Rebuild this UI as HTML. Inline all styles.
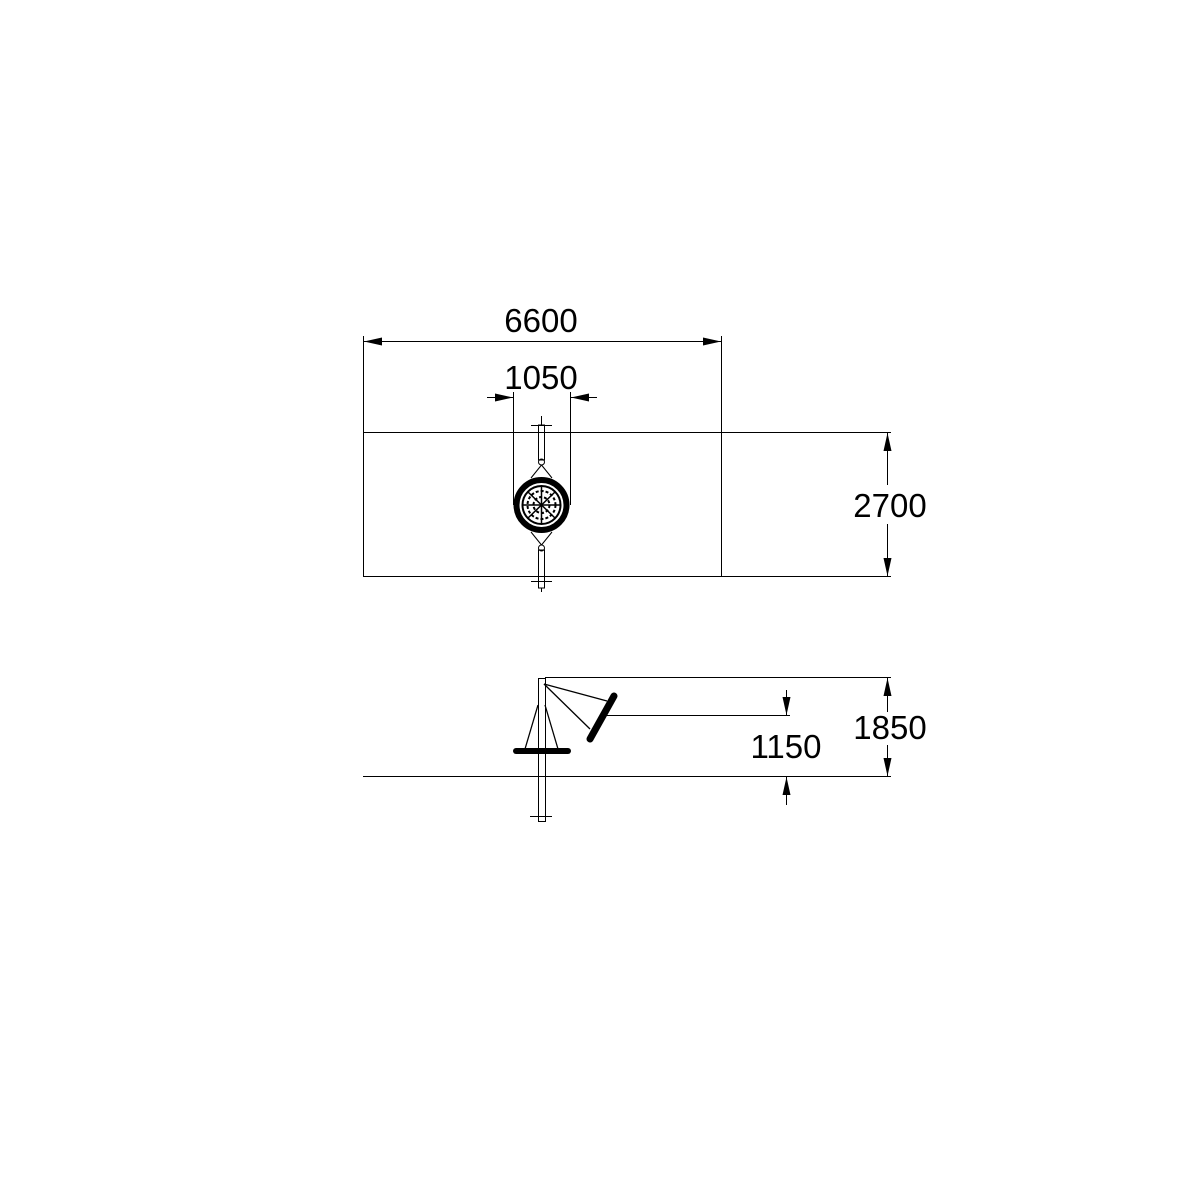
<!DOCTYPE html>
<html><head><meta charset="utf-8"><style>html,body{margin:0;padding:0;background:#fff}svg{display:block}</style></head>
<body>
<svg width="1201" height="1201" viewBox="0 0 1201 1201" xmlns="http://www.w3.org/2000/svg">
<defs>
<marker id="b" viewBox="0 0 18 8" refX="18" refY="4" markerWidth="18" markerHeight="8" orient="auto-start-reverse" markerUnits="userSpaceOnUse"><path d="M0,0 L18,4 L0,8 z" fill="#000"/></marker>
</defs>
<rect width="1201" height="1201" fill="#fff"/>
<g stroke="#000" stroke-width="1" fill="none">
<rect x="363.5" y="432.5" width="358" height="144"/>
<line x1="721" y1="432.5" x2="891" y2="432.5"/>
<line x1="721" y1="576.5" x2="891" y2="576.5"/>
<line x1="363.5" y1="336" x2="363.5" y2="432"/>
<line x1="721.5" y1="336" x2="721.5" y2="432"/>
<line x1="364" y1="341.5" x2="721" y2="341.5" marker-start="url(#b)" marker-end="url(#b)"/>
<line x1="513.5" y1="392" x2="513.5" y2="505"/>
<line x1="570.5" y1="392" x2="570.5" y2="505"/>
<line x1="487" y1="397.5" x2="513" y2="397.5" marker-end="url(#b)"/>
<line x1="597" y1="397.5" x2="571" y2="397.5" marker-end="url(#b)"/>
<line x1="887.5" y1="433" x2="887.5" y2="485" marker-start="url(#b)"/>
<line x1="887.5" y1="524" x2="887.5" y2="576" marker-end="url(#b)"/>
<rect x="538.5" y="425" width="6" height="35"/>
<rect x="538.5" y="550" width="6" height="38"/>
<line x1="531" y1="425.5" x2="552" y2="425.5"/>
<line x1="531" y1="581.5" x2="552" y2="581.5"/>
<line x1="541.5" y1="416" x2="541.5" y2="425"/>
<line x1="541.5" y1="588" x2="541.5" y2="592"/>
<path d="M541.5,465 L531,478 M541.5,465 L552,478 M541.5,545 L531,532 M541.5,545 L552,532"/>
<circle cx="541.5" cy="462" r="3"/>
<circle cx="541.5" cy="548" r="3"/>
<circle cx="541.5" cy="505" r="25" stroke-width="6"/>
<circle cx="541.5" cy="505" r="19" stroke-width="2"/>
<circle cx="541.5" cy="505" r="14" stroke-width="2" stroke-dasharray="3 2"/>
<circle cx="541.5" cy="505" r="8" stroke-width="2" stroke-dasharray="3 2"/>
<g stroke-width="1.5">
<line x1="523" y1="505" x2="560" y2="505"/><line x1="541.5" y1="486" x2="541.5" y2="524"/>
<line x1="528" y1="492" x2="555" y2="518"/><line x1="555" y1="492" x2="528" y2="518"/>
</g>
<line x1="545" y1="677.5" x2="891" y2="677.5"/>
<line x1="363" y1="776.5" x2="891" y2="776.5"/>
<line x1="887.5" y1="678" x2="887.5" y2="712" marker-start="url(#b)"/>
<line x1="887.5" y1="745" x2="887.5" y2="776" marker-end="url(#b)"/>
<line x1="603" y1="715.5" x2="790" y2="715.5"/>
<line x1="786.5" y1="690" x2="786.5" y2="715" marker-end="url(#b)"/>
<line x1="786.5" y1="805" x2="786.5" y2="777" marker-end="url(#b)"/>
<rect x="538.5" y="678.5" width="7" height="143"/>
<line x1="530" y1="816.5" x2="552" y2="816.5"/>
<line x1="538" y1="705" x2="525" y2="749" stroke-width="1.3"/>
<line x1="545" y1="705" x2="558" y2="749" stroke-width="1.3"/>
<line x1="544" y1="684" x2="607" y2="701" stroke-width="1.3"/>
<line x1="544" y1="684" x2="590" y2="729" stroke-width="1.3"/>
<line x1="516" y1="751" x2="568" y2="751" stroke-width="6" stroke-linecap="round"/>
<line x1="614" y1="696" x2="590" y2="739" stroke-width="7" stroke-linecap="round"/>
</g>
<g font-family="Liberation Sans, sans-serif" font-size="33" fill="#000" text-anchor="middle">
<text x="541" y="332">6600</text>
<text x="541" y="389">1050</text>
<text x="890" y="517">2700</text>
<text x="890" y="739">1850</text>
<text x="786" y="758">1150</text>
</g>
</svg>
</body></html>
